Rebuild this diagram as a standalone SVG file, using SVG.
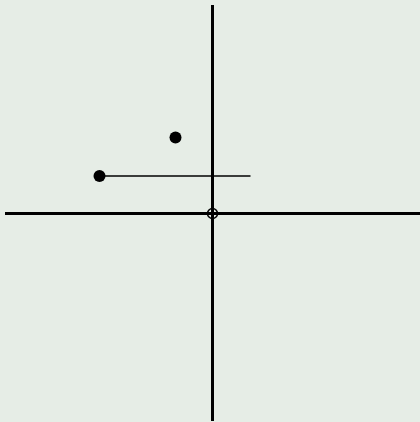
<svg xmlns="http://www.w3.org/2000/svg" width="420" height="422" viewBox="0 0 420 422">
<style>
.axis{stroke:#000;stroke-width:3;fill:none}
.thin{stroke:#000;stroke-width:1.6;fill:none}
.dot{fill:#000}
</style>
<rect width="420" height="422" fill="#e6ede6"/>
<g id="connectors">
<line class="axis" x1="212.5" y1="5" x2="212.5" y2="421"/>
<line class="axis" x1="5" y1="213.5" x2="420" y2="213.5"/>
<line class="thin" x1="99.5" y1="176" x2="250.5" y2="176"/>
</g>
<g id="origin"><circle cx="212.5" cy="213.5" r="5" fill="none" stroke="#000" stroke-width="1.5"/></g>
<g id="p1"><circle class="dot" cx="175.5" cy="137.5" r="6"/></g>
<g id="p2"><circle class="dot" cx="99.5" cy="176" r="6"/></g>
</svg>
